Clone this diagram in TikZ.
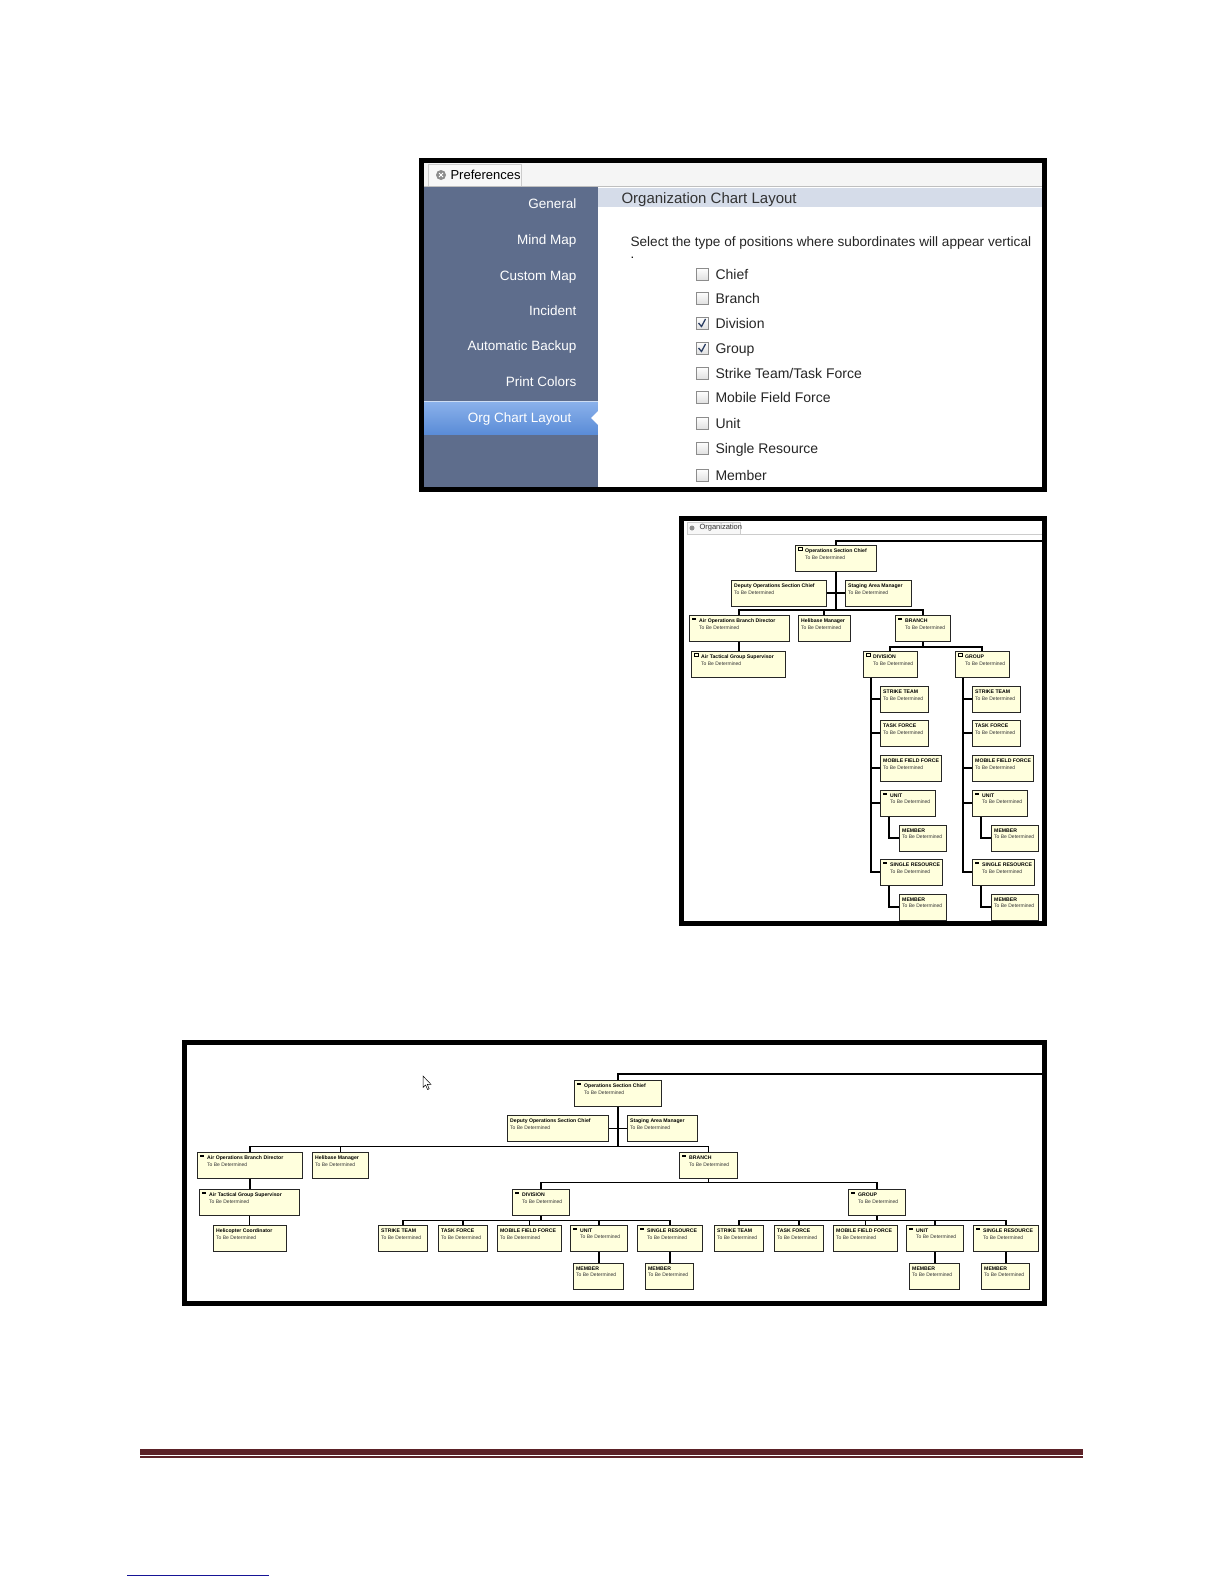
\documentclass[tikz,border=0pt]{standalone}
\usepackage{fontspec}
\setmainfont{Liberation Sans}
\usetikzlibrary{positioning}
\definecolor{cream}{RGB}{255,255,221}
\definecolor{slate}{RGB}{94,109,140}
\definecolor{seltop}{RGB}{140,178,235}
\definecolor{selbot}{RGB}{90,140,215}
\definecolor{hdrband}{RGB}{213,220,233}
\definecolor{footred}{RGB}{92,34,40}
\definecolor{footblue}{RGB}{22,20,150}
\definecolor{tick}{RGB}{43,62,99}

% one position box: name, x, y, width, icon (0 none, 1 dash, 2 square), title
\newcommand{\orgbox}[6]{%
  \node[obox,minimum width=#4] (#1) at (#2,#3) {};
  \ifnum#5=1 \draw[line width=1.1] ([shift={(3,4)}]#1.north west) -- ++(4,0);\fi
  \ifnum#5=2 \draw[line width=0.5] ([shift={(3,2.5)}]#1.north west) rectangle ++(4,2.5);\fi
  \ifnum#5>0 \def\orgdx{10}\else\def\orgdx{3}\fi
  \node[otxt] at ([shift={(\orgdx,3.3)}]#1.north west) {\textbf{\fontsize{5.15}{6.8}\selectfont #6}\\\textcolor{black!80}{To Be Determined}};}

\begin{document}
\begin{tikzpicture}[x=1pt,y=-1pt,
  obox/.style={draw=black!85,line width=0.7,fill=cream,minimum height=26,inner sep=0,anchor=north west},
  otxt/.style={anchor=north west,align=left,inner sep=0,font=\fontsize{5}{6.9}\selectfont},
  cn/.style={line width=1.8},
  cnb/.style={line width=1.3},
  frame/.style={line width=5},
  item/.style={anchor=east,text=white,text height=9.3,text depth=0,font=\fontsize{13.5}{15}\selectfont},
  chk/.style={draw=black!45,top color=white,bottom color=black!12,minimum size=12,inner sep=0},
  lbl/.style={anchor=west,text=black!85,text height=10,text depth=0,font=\fontsize{14}{16}\selectfont},
  tabbox/.style={draw=black!20,fill=black!3,anchor=north west,inner sep=0}]
\useasboundingbox[fill=white] (0,0) rectangle (1224,1584);

% preferences window
\fill[black!4] (424,163) rectangle (1042,186);
\node[tabbox,minimum width=93,minimum height=22] (ptab) at (428,164) {};
\fill[black!45] (441,175) circle (5);
\draw[white,line width=1] (439,173) -- (443,177) (443,173) -- (439,177);
\node[anchor=west,text height=9.3,text depth=0,font=\fontsize{13}{15}\selectfont] at (447,174.5) {Preferences};
\draw[black!25] (424,186) -- (1042,186);
\fill[slate] (424,187) rectangle (598,487);
\shade[top color=seltop,bottom color=selbot] (424,401) rectangle (598,434);
\draw[white!70!selbot] (424,401) -- (598,401);
\foreach \yy/\txt in {204/General,240/Mind Map,276/Custom Map,311/Incident,346/Automatic Backup,382/Print Colors}
  \node[item] at (580,\yy) {\txt};
\node[item] at (575,418) {Org Chart Layout};
\fill[white] (598,187) rectangle (1042,487);
\fill[white] (598,411) -- (591,418) -- (598,425) -- cycle;
\fill[hdrband] (598,188) rectangle (1042,207);
\node[anchor=west,text=black!80,text height=10.7,text depth=0,font=\fontsize{15}{17}\selectfont] at (618,198) {Organization Chart Layout};
\node[anchor=west,text=black!85,text height=9.7,text depth=0,font=\fontsize{13.6}{15}\selectfont] at (627,242) {Select the type of positions where subordinates will appear vertical};
\node[anchor=west,font=\fontsize{13}{15}\selectfont] at (627,258) {.};
\foreach \yy/\txt/\on in {274/Chief/0,298/Branch/0,323/Division/1,348/Group/1,373/{Strike Team/Task Force}/0,397/Mobile Field Force/0,423/Unit/0,448/Single Resource/0,475/Member/0}{
  \node[chk] (cb) at (702,\yy) {};
  \node[lbl] at (712,\yy) {\txt};
  \ifnum\on=1 \draw[tick,line width=1.3] (698.5,\yy) -- (701.5,\yy+3.5) -- (705.5,\yy-4);\fi}
\draw[frame] (421.5,160.5) rectangle (1044.5,489.5);

% organization window, vertical layout
\node[tabbox,minimum width=53,minimum height=12] (otab) at (687,522) {};
\draw[black!20] (740,534) -- (1042,534);
\fill[black!45] (692,528) circle (2.5);
\node[anchor=west,text=black!80,font=\fontsize{7.5}{9}\selectfont] at (696,528) {Organization};
\coordinate (otop) at (1044,541);
\orgbox{chief}{795}{545}{81}{2}{Operations Section Chief}
\orgbox{deputy}{731}{580}{95}{0}{Deputy Operations Section Chief}
\orgbox{staging}{845}{580}{66}{0}{Staging Area Manager}
\orgbox{airops}{689}{615}{100}{1}{Air Operations Branch Director}
\orgbox{helibase}{798}{615}{52}{0}{Helibase Manager}
\orgbox{branch}{895}{615}{55}{1}{BRANCH}
\orgbox{airtac}{691}{651}{94}{2}{Air Tactical Group Supervisor}
\draw[cn] (chief.north) -- ++(0,-4) -| (otop);
\draw[cn] (chief.south) -- ++(0,38) coordinate (cj);
\draw[cn] (deputy.east) -- (staging.west);
\draw[cn] (airops.north) |- (cj) -| (branch.north);
\draw[cn] (helibase.north) -- (helibase.north |- cj);
\draw[cn] (airops.south) -- (airops.south |- airtac.north);
\foreach \px/\nm/\ttl in {863/d/DIVISION,955/g/GROUP}{
  \begin{scope}[xshift=\px]
  \orgbox{\nm-hd}{0}{651}{54}{2}{\ttl}
  \orgbox{\nm-st}{17}{686}{48}{0}{STRIKE TEAM}
  \orgbox{\nm-tf}{17}{720}{48}{0}{TASK FORCE}
  \orgbox{\nm-mff}{17}{755}{61}{0}{MOBILE FIELD FORCE}
  \orgbox{\nm-unit}{17}{790}{55}{1}{UNIT}
  \orgbox{\nm-m1}{36}{825}{47}{0}{MEMBER}
  \orgbox{\nm-sr}{17}{859}{62}{1}{SINGLE RESOURCE}
  \orgbox{\nm-m2}{36}{894}{47}{0}{MEMBER}
  \coordinate (\nm-s) at ([shift={(8,0)}]\nm-hd.south west);
  \foreach \c in {st,tf,mff,unit,sr} \draw[cn] (\nm-s) |- (\nm-\c.west);
  \draw[cn] ([shift={(9,0)}]\nm-unit.south west) |- (\nm-m1.west);
  \draw[cn] ([shift={(9,0)}]\nm-sr.south west) |- (\nm-m2.west);
  \end{scope}}
\draw[cn] (branch.south) -- ++(0,5) coordinate (bj);
\draw[cn] (d-hd.north) |- (bj) -| (g-hd.north);
\draw[frame] (681.5,518.5) rectangle (1044.5,923.5);

% organization window, horizontal layout
\draw[fill=white,line width=0.5] (423,1076) -- (423,1087.5) -- (425.6,1085) -- (427.6,1089.5) -- (429.2,1088.8) -- (427.3,1084.4) -- (431,1084.4) -- cycle;
\coordinate (btop) at (1044,1074);
\orgbox{chf}{574}{1080}{87}{1}{Operations Section Chief}
\orgbox{dep}{507}{1115}{101}{0}{Deputy Operations Section Chief}
\orgbox{stg}{627}{1115}{70}{0}{Staging Area Manager}
\orgbox{aob}{197}{1152}{105}{1}{Air Operations Branch Director}
\orgbox{hbm}{312}{1152}{56}{0}{Helibase Manager}
\orgbox{brn}{679}{1152}{58}{1}{BRANCH}
\orgbox{atg}{199}{1189}{100}{1}{Air Tactical Group Supervisor}
\orgbox{hco}{213}{1225}{73}{0}{Helicopter Coordinator}
\draw[cnb] (chf.north) -- ++(0,-6) -| (btop);
\draw[cnb] (chf.south) -- ++(0,40) coordinate (hj);
\draw[line width=0.6] (dep.east) -- (stg.west);
\draw[cnb] (aob.north) |- (hj) -| (brn.north);
\draw[cnb] (hbm.north) -- (hbm.north |- hj);
\draw[cnb] (aob.south) -- (aob.south |- atg.north);
\draw[cnb] (atg.south) -- (atg.south |- hco.north);
\foreach \bx/\nm/\ttl in {378/p/DIVISION,714/q/GROUP}{
  \begin{scope}[xshift=\bx]
  \orgbox{\nm-hd}{134}{1189}{57}{1}{\ttl}
  \orgbox{\nm-st}{0}{1225}{49}{0}{STRIKE TEAM}
  \orgbox{\nm-tf}{60}{1225}{49}{0}{TASK FORCE}
  \orgbox{\nm-mff}{119}{1225}{64}{0}{MOBILE FIELD FORCE}
  \orgbox{\nm-unit}{192}{1225}{57}{1}{UNIT}
  \orgbox{\nm-sr}{259}{1225}{65}{1}{SINGLE RESOURCE}
  \orgbox{\nm-m1}{195}{1263}{50}{0}{MEMBER}
  \orgbox{\nm-m2}{267}{1263}{48}{0}{MEMBER}
  \draw[cnb] (\nm-hd.south) -- ++(0,5) coordinate (\nm-j);
  \foreach \c in {st,tf,mff,unit,sr} \draw[cnb] (\nm-j) -| (\nm-\c.north);
  \draw[cnb] (\nm-unit.south) -- (\nm-unit.south |- \nm-m1.north);
  \draw[cnb] (\nm-sr.south) -- (\nm-sr.south |- \nm-m2.north);
  \end{scope}}
\draw[cnb] (brn.south) -- ++(0,4) coordinate (rj);
\draw[cnb] (p-hd.north) |- (rj) -| (q-hd.north);
\draw[frame] (184.5,1042.5) rectangle (1044.5,1303.5);

% page footer
\fill[footred] (140,1449) rectangle (1083,1454.5);
\fill[footred] (140,1456) rectangle (1083,1457.6);
\draw[footblue,line width=0.9] (127,1575) -- (269,1575);
\end{tikzpicture}
\end{document}
